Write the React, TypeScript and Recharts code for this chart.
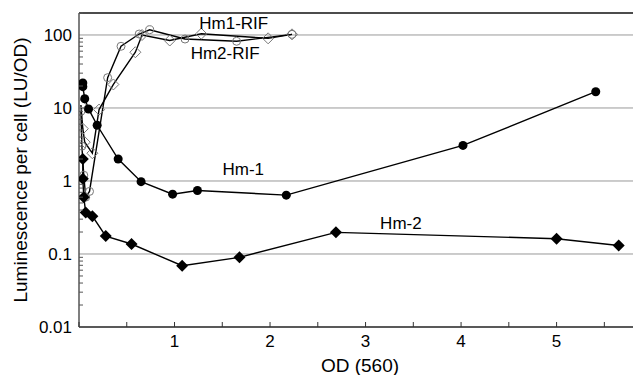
import { LineChart, Line, XAxis, YAxis, ReferenceLine, ReferenceDot } from 'recharts';

// OD (560) vs luminescence per cell
const hm1 = [
  { x: 0.04, y: 22 }, { x: 0.04, y: 19.6 }, { x: 0.06, y: 13.4 }, { x: 0.1, y: 9.7 },
  { x: 0.19, y: 5.8 }, { x: 0.41, y: 2.0 }, { x: 0.65, y: 0.98 }, { x: 0.98, y: 0.66 },
  { x: 1.24, y: 0.74 }, { x: 2.17, y: 0.64 }, { x: 4.02, y: 3.07 }, { x: 5.41, y: 16.7 },
];
const hm2 = [
  { x: 0.04, y: 2.0 }, { x: 0.04, y: 1.07 }, { x: 0.05, y: 0.6 }, { x: 0.07, y: 0.37 },
  { x: 0.14, y: 0.33 }, { x: 0.28, y: 0.176 }, { x: 0.55, y: 0.137 }, { x: 1.08, y: 0.069 },
  { x: 1.68, y: 0.09 }, { x: 2.69, y: 0.198 }, { x: 5.0, y: 0.162 }, { x: 5.65, y: 0.131 },
];
const hm1Rif = [
  { x: 0.02, y: 9 }, { x: 0.03, y: 3 }, { x: 0.05, y: 1.2 }, { x: 0.07, y: 0.6 },
  { x: 0.11, y: 0.72 }, { x: 0.3, y: 26 }, { x: 0.44, y: 70 }, { x: 0.63, y: 103 },
  { x: 0.74, y: 118 }, { x: 1.11, y: 88 }, { x: 1.65, y: 82 }, { x: 2.23, y: 102 },
];
const hm2Rif = [
  { x: 0.02, y: 11 }, { x: 0.04, y: 5.2 }, { x: 0.06, y: 3.4 }, { x: 0.14, y: 2.4 },
  { x: 0.21, y: 9.5 }, { x: 0.36, y: 21 }, { x: 0.59, y: 58 }, { x: 0.66, y: 100 },
  { x: 0.95, y: 84 }, { x: 1.28, y: 104 }, { x: 1.98, y: 90 }, { x: 2.23, y: 102 },
];

const yTicks = [0.01, 0.02, 0.03, 0.04, 0.05, 0.06, 0.07, 0.08, 0.09,
  0.1, 0.2, 0.3, 0.4, 0.5, 0.6, 0.7, 0.8, 0.9,
  1, 2, 3, 4, 5, 6, 7, 8, 9, 10, 20, 30, 40, 50, 60, 70, 80, 90, 100, 200];
const yLabels = [0.01, 0.1, 1, 10, 100];
const gridValues = [0.1, 1, 10, 100];
const xTicks = [0, 0.5, 1, 1.5, 2, 2.5, 3, 3.5, 4, 4.5, 5, 5.5];
const xLabels = [1, 2, 3, 4, 5];

const labels = [
  { name: 'Hm1-RIF', x: 1.62, y: 146 },
  { name: 'Hm2-RIF', x: 1.53, y: 56 },
  { name: 'Hm-1', x: 1.72, y: 1.47 },
  { name: 'Hm-2', x: 3.37, y: 0.264 },
];

const FONT = '"Liberation Sans", Arial, sans-serif';

const filledCircle = (p: any) => <circle key={p.index} cx={p.cx} cy={p.cy} r={4.5} fill="#000" />;
const openCircle = (p: any) => <circle key={p.index} cx={p.cx} cy={p.cy} r={4} fill="none" stroke="#777" strokeWidth={1} />;
const filledDiamond = (p: any) => (
  <polygon key={p.index} fill="#000"
    points={`${p.cx},${p.cy - 6} ${p.cx + 6},${p.cy} ${p.cx},${p.cy + 6} ${p.cx - 6},${p.cy}`} />
);
const openDiamond = (p: any) => (
  <polygon key={p.index} fill="none" stroke="#777" strokeWidth={1}
    points={`${p.cx},${p.cy - 5.5} ${p.cx + 5.5},${p.cy} ${p.cx},${p.cy + 5.5} ${p.cx - 5.5},${p.cy}`} />
);

const YTick = (p: any) => {
  const v = p.payload.value;
  const major = yLabels.includes(v);
  const ax = p.x + 7;
  return (
    <g>
      <line x1={ax} x2={ax + (major ? 0 : 4)} y1={p.y} y2={p.y} stroke="#555" />
      {major && (
        <text x={p.x} y={p.y} dy={6} textAnchor="end" fontSize={17} fontFamily={FONT} fill="#000">
          {String(v)}
        </text>
      )}
    </g>
  );
};

const XTick = (p: any) => {
  const v = p.payload.value;
  return (
    <g>
      <line x1={p.x} x2={p.x} y1={327} y2={322} stroke="#333" />
      {xLabels.includes(v) && (
        <text x={p.x} y={p.y} dy={14} textAnchor="middle" fontSize={17} fontFamily={FONT} fill="#000">
          {String(v)}
        </text>
      )}
    </g>
  );
};

export default function App() {
  return (
    <div style={{ position: 'absolute', left: 0, top: 0, background: '#fff' }}>
      <LineChart width={633} height={375} margin={{ top: 13, right: 0, bottom: 0, left: 0 }}>
        <XAxis
          type="number" dataKey="x" domain={[0, 5.8]} ticks={xTicks} allowDataOverflow
          height={48} tickSize={0} tickMargin={6} tickLine={false}
          axisLine={{ stroke: '#222', strokeWidth: 1.5 }} tick={<XTick />}
          label={{
            value: 'OD (560)',
            content: (p: any) => {
              const vb = p.viewBox;
              return (
                <text x={vb.x + vb.width / 2 + 4} y={vb.y + 38} textAnchor="middle"
                  dominantBaseline="central" fontSize={19} fontFamily={FONT} fill="#000">
                  OD (560)
                </text>
              );
            },
          }}
        />
        <YAxis
          type="number" dataKey="y" scale="log" domain={[0.01, 200]} ticks={yTicks} allowDataOverflow
          width={79} tickSize={0} tickMargin={7} tickLine={false} interval={0}
          axisLine={{ stroke: '#555', strokeWidth: 1.5 }} tick={<YTick />}
          label={{
            value: 'Luminescence per cell (LU/OD)',
            content: (p: any) => {
              const vb = p.viewBox;
              const cx = vb.x + 20;
              const cy = vb.y + vb.height / 2;
              return (
                <text x={cx} y={cy} transform={`rotate(-90, ${cx}, ${cy})`} textAnchor="middle"
                  dominantBaseline="central" fontSize={19} fontFamily={FONT} fill="#000">
                  Luminescence per cell (LU/OD)
                </text>
              );
            },
          }}
        />
        {gridValues.map(v => (
          <ReferenceLine key={v} y={v} stroke="#999" strokeWidth={1} />
        ))}
        <ReferenceLine y={200} stroke="#111" strokeWidth={1.5} />
        <Line data={hm1Rif} dataKey="y" stroke="#000" strokeWidth={1.4} dot={openCircle} isAnimationActive={false} />
        <Line data={hm2Rif} dataKey="y" stroke="#000" strokeWidth={1.4} dot={openDiamond} isAnimationActive={false} />
        <Line data={hm1} dataKey="y" stroke="#000" strokeWidth={1.4} dot={filledCircle} isAnimationActive={false} />
        <Line data={hm2} dataKey="y" stroke="#000" strokeWidth={1.4} dot={filledDiamond} isAnimationActive={false} />
        {labels.map(l => (
          <ReferenceDot key={l.name} x={l.x} y={l.y} r={0} fill="none" stroke="none"
            label={{ value: l.name, position: 'center', style: { fontSize: 17, fontFamily: FONT, fill: '#000' } }} />
        ))}
      </LineChart>
    </div>
  );
}
